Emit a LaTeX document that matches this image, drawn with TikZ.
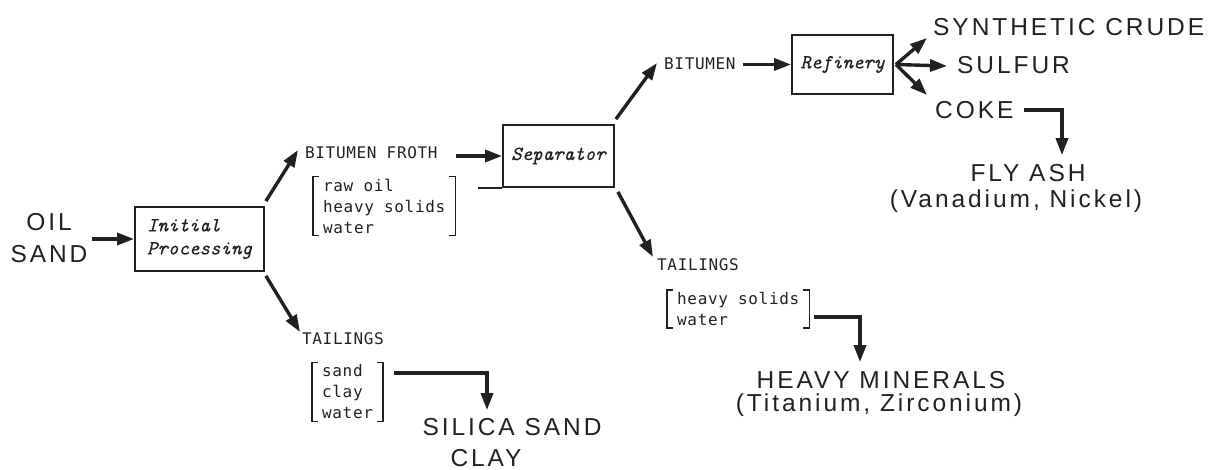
\documentclass[tikz,border=0pt]{standalone}
\usepackage{fontspec}
\usetikzlibrary{arrows.meta,calc}
\newfontfamily\bigsans[LetterSpace=12]{Liberation Sans}
\newfontfamily\monolab[LetterSpace=4]{DejaVu Sans Mono}
\newfontfamily\boxfont[FakeBold=0.4]{Latin Modern Mono}
\definecolor{ink}{gray}{0.13}
\tikzset{
  arr/.style={draw=ink, line width=3.4pt, -{Triangle[length=17pt,width=12pt]}},
  procbox/.style={draw=ink, line width=1.8pt, font=\boxfont\itshape\fontsize{20}{23}\selectfont, text=ink},
  bigtxt/.style={font=\bigsans\fontsize{24.5}{32}\selectfont, inner sep=0pt, text=ink},
  lab/.style={font=\monolab\fontsize{16}{21}\selectfont, inner sep=0pt, text=ink},
  brk/.style={lab, align=left, inner xsep=10pt, inner ysep=2pt},
  brkline/.style={draw=ink, line width=1.4pt},
}
\begin{document}
\begin{tikzpicture}[x=1pt,y=-1pt]
\useasboundingbox (0,0) rectangle (1212,470);

% nodes
\node[bigtxt, align=center] (oil) at (49,238) {OIL\\SAND};
\node[procbox, minimum width=129pt, minimum height=64pt, align=left] (init) at (199.5,239) {Initial\\Processing};
\node[lab, anchor=west] (froth) at (305,153) {BITUMEN FROTH};
\node[brk, anchor=west] (b1) at (313,206) {raw oil\\heavy solids\\water};
\node[procbox, minimum width=111pt, minimum height=62pt] (sep) at (558.5,156) {Separator};
\node[lab, anchor=west] (bit) at (664,64) {BITUMEN};
\node[procbox, minimum width=101pt, minimum height=59pt] (ref) at (842.5,64.5) {Refinery};
\node[bigtxt, anchor=west] (syn) at (933,27) {SYNTHETIC CRUDE};
\node[bigtxt, anchor=west] (sul) at (957,65) {SULFUR};
\node[bigtxt, anchor=west] (coke) at (935,110) {COKE};
\node[bigtxt] (fly) at (1028,173) {FLY ASH};
\node[bigtxt] (van) at (1016,201) {(Vanadium, Nickel)};
\node[lab, anchor=west] (tail2) at (657,265) {TAILINGS};
\node[brk, anchor=west] (b2) at (667,309) {heavy solids\\water};
\node[bigtxt] (heavy) at (881,380) {HEAVY MINERALS};
\node[bigtxt] (tit) at (879,405) {(Titanium, Zirconium)};
\node[lab, anchor=west] (tail1) at (302,339) {TAILINGS};
\node[brk, anchor=west] (b3) at (312,392) {sand\\clay\\water};
\node[bigtxt] (silica) at (512,427) {SILICA SAND};
\node[bigtxt] (clay) at (486,458) {CLAY};

% brackets
\foreach \b in {b1,b2,b3}{
  \draw[brkline] ([xshift=6pt]\b.north west) -- (\b.north west) -- (\b.south west) -- ([xshift=6pt]\b.south west);
  \draw[brkline] ([xshift=-6pt]\b.north east) -- (\b.north east) -- (\b.south east) -- ([xshift=-6pt]\b.south east);
}
% separator base line
\draw[draw=ink, line width=1.8pt] (sep.south west) -- ([xshift=-24pt]sep.south west);

% connectors
\draw[arr] ([xshift=4pt]oil.east |- init.west) -- (init.west);
\draw[arr] ([shift={(1,-5)}]init.north east) -- ([shift={(-7,-3)}]froth.west);
\draw[arr] ([shift={(1,4)}]init.south east) -- ([shift={(-2,-7)}]tail1.west);
\draw[arr] ($(froth.east |- sep.west)+(18,0)$) -- (sep.west);
\draw[arr] ([shift={(1,-5)}]sep.north east) -- ([shift={(-7,-1)}]bit.west);
\draw[arr] ([shift={(3,4)}]sep.south east) -- ([shift={(-4,-8)}]tail2.west);
\draw[arr] ([xshift=7pt]bit.east |- ref.west) -- (ref.west);
\coordinate (fan) at ([xshift=2pt]ref.east);
\draw[arr] (fan) -- ([shift={(-6,11)}]syn.west);
\draw[arr] (fan) -- ([shift={(-10,1)}]sul.west);
\draw[arr] (fan) -- ([shift={(-8,-15)}]coke.west);
\draw[arr] ([xshift=10pt]coke.east) -| ([shift={(34,-9)}]fly.north);
\draw[arr] ([shift={(5,8)}]b2.east) -| ([shift={(-21,-9)}]heavy.north);
\draw[arr] ([shift={(11,-19)}]b3.east) -| ([shift={(-25,-8)}]silica.north);
\end{tikzpicture}
\end{document}
